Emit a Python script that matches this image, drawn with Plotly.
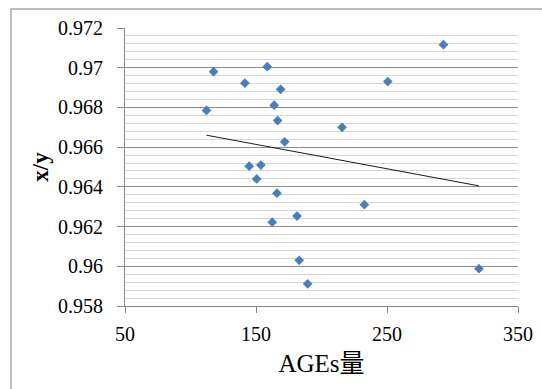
import numpy as np
import plotly.graph_objects as go

# Data
ages = [117.6, 141.5, 158.6, 168.8, 163.9, 112.2, 166.5, 171.9, 144.8, 153.7,
        150.5, 166.0, 181.3, 162.4, 183.0, 189.4, 293.1, 250.6, 215.7, 232.7, 320.2]
xy_ratio = [0.96980, 0.96922, 0.97005, 0.96891, 0.96811, 0.96785, 0.96734, 0.96627,
            0.96504, 0.96510, 0.96440, 0.96368, 0.96253, 0.96222, 0.96030, 0.95912,
            0.97116, 0.96930, 0.96700, 0.96310, 0.95988]

x_title = "AGEs量"
y_title = "x/y"

# Linear trend line (least squares), drawn between min and max x
slope, intercept = np.polyfit(ages, xy_ratio, 1)
tx = [min(ages), max(ages)]
ty = [slope * v + intercept for v in tx]

FONT = "Liberation Serif, Noto Sans CJK JP, serif"

fig = go.Figure()
fig.add_trace(go.Scatter(
    x=ages, y=xy_ratio, mode="markers",
    marker=dict(symbol="diamond", size=7.5, color="#4A7EBB",
                line=dict(width=0)),
    showlegend=False, hoverinfo="skip"))
fig.add_trace(go.Scatter(
    x=tx, y=ty, mode="lines",
    line=dict(color="#1a1a1a", width=1),
    showlegend=False, hoverinfo="skip"))

W, H = 542, 389
L, R, T, B = 125, 24, 28, 83
pw, ph = W - L - R, H - T - B

def px_to_paper_x(p):
    return (p - L) / pw

def px_to_paper_y(p):
    return (H - B - p) / ph

fig.add_shape(type="rect", xref="paper", yref="paper",
              x0=px_to_paper_x(11), x1=px_to_paper_x(548),
              y0=px_to_paper_y(396), y1=px_to_paper_y(9),
              line=dict(color="#A6A6A6", width=1.5), layer="below")

fig.update_layout(
    width=W, height=H,
    margin=dict(l=L, r=R, t=T, b=B, autoexpand=False),
    paper_bgcolor="white", plot_bgcolor="white",
    font=dict(family=FONT, color="black", size=20),
    hovermode=False,
)
fig.update_xaxes(
    range=[50, 350], dtick=100, tick0=50,
    showgrid=False, zeroline=False,
    showline=True, linecolor="#868686", linewidth=1,
    ticks="outside", ticklen=6, tickcolor="#868686",
    ticklabelstandoff=4,
    tickfont=dict(family=FONT, size=20, color="black"),
    title=dict(text=x_title, font=dict(family=FONT, size=25, color="black"), standoff=10),
)
fig.update_yaxes(
    range=[0.958, 0.972], dtick=0.002, tick0=0.958,
    showgrid=True, gridcolor="#8E8E8E", gridwidth=1,
    zeroline=False,
    showline=True, linecolor="#868686", linewidth=1,
    ticks="outside", ticklen=7, tickcolor="#868686",
    ticklabelstandoff=10,
    tickfont=dict(family=FONT, size=20, color="black"),
    minor=dict(dtick=0.0004, showgrid=True, gridcolor="#D6D6D6", gridwidth=1),
    title=dict(text="<b>" + y_title + "</b>", font=dict(family=FONT, size=23, color="black"), standoff=2),
)

fig.write_html("out.html", config={"displayModeBar": False},
               post_script="document.body.style.margin='0';document.body.style.padding='0';")
